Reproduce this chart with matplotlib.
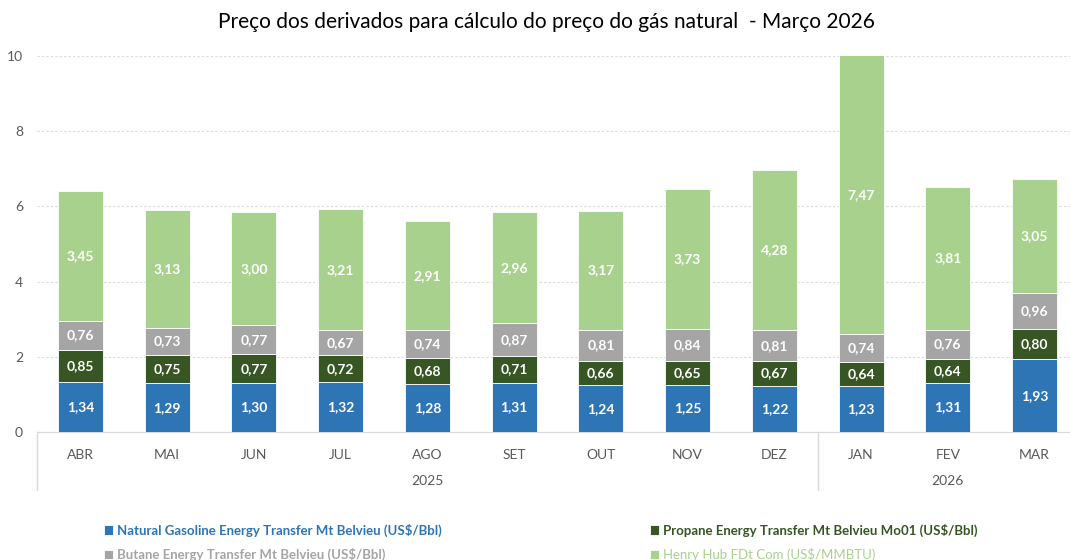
import matplotlib
matplotlib.use("Agg")
import matplotlib.pyplot as plt
import numpy as np
from matplotlib.transforms import blended_transform_factory

plt.rcParams['font.family'] = ['Lato', 'DejaVu Sans']

months = ["ABR", "MAI", "JUN", "JUL", "AGO", "SET", "OUT", "NOV", "DEZ", "JAN", "FEV", "MAR"]
years = ["2025", "2026"]
year_sizes = [9, 3]

gasoline = [1.34, 1.29, 1.30, 1.32, 1.28, 1.31, 1.24, 1.25, 1.22, 1.23, 1.31, 1.93]
propane = [0.85, 0.75, 0.77, 0.72, 0.68, 0.71, 0.66, 0.65, 0.67, 0.64, 0.64, 0.80]
butane = [0.76, 0.73, 0.77, 0.67, 0.74, 0.87, 0.81, 0.84, 0.81, 0.74, 0.76, 0.96]
henry = [3.45, 3.13, 3.00, 3.21, 2.91, 2.96, 3.17, 3.73, 4.28, 7.47, 3.81, 3.05]

names = ["Natural Gasoline Energy Transfer Mt Belvieu (US$/Bbl)",
         "Propane Energy Transfer Mt Belvieu Mo01 (US$/Bbl)",
         "Butane Energy Transfer Mt Belvieu (US$/Bbl)",
         "Henry Hub FDt Com (US$/MMBTU)"]
colors = ["#2E75B6", "#375623", "#A5A5A5", "#A9D18E"]

fig = plt.figure(figsize=(10.7, 5.6), dpi=100)
ax = fig.add_axes([37 / 1070, 1 - 432 / 560, 1041 / 1070, 376 / 560])

x = np.arange(len(months))
bottom = np.zeros(len(months))
bars = []
for vals, c, n in zip([gasoline, propane, butane, henry], colors, names):
    b = ax.bar(x, vals, 0.52, bottom=bottom, color=c, label=n, zorder=3,
               edgecolor="white", linewidth=0.6)
    ax.bar_label(b, labels=[f"{v:.2f}".replace(".", ",") for v in vals],
                 label_type="center", color="white", fontsize=10, fontweight="bold")
    bars.append(b)
    bottom += np.array(vals)

ax.set_xlim(-0.5, 11.5)
ax.set_ylim(0, 10)
ax.set_yticks([0, 2, 4, 6, 8, 10])
ax.tick_params(axis="y", length=0, labelsize=10, colors="#595959", pad=10)
ax.yaxis.grid(True, linestyle=(0, (2, 2)), color="#D9D9D9", linewidth=0.8, zorder=0)
ax.set_xticks(x)
ax.set_xticklabels(months)
ax.tick_params(axis="x", length=0, labelsize=10, colors="#595959", pad=12)
for s in ["top", "right", "left"]:
    ax.spines[s].set_visible(False)
ax.spines["bottom"].set_color("#D9D9D9")

# year grouping
tr = blended_transform_factory(ax.transData, ax.transAxes)
start = -0.5
for yr, n in zip(years, year_sizes):
    ax.text(start + n / 2, -0.13, yr, transform=tr, ha="center", va="center",
            fontsize=10, color="#595959")
    start += n
for xs in [-0.5, 8.5, 11.5]:
    ax.plot([xs, xs], [0, -0.155], transform=tr, color="#D9D9D9", linewidth=1,
            clip_on=False)

fig.text(0.511, 0.96, "Preço dos derivados para cálculo do preço do gás natural  - Março 2026",
         ha="center", va="center", fontsize=15, color="#000000")

order = [[0, 2], [1, 3]]
xs_leg = [97 / 1070, 643 / 1070]
for col, xl in zip(order, xs_leg):
    leg = fig.legend([bars[i] for i in col], [names[i] for i in col],
                     loc="upper left", bbox_to_anchor=(xl, 1 - 517 / 560),
                     frameon=False, fontsize=9.5, handlelength=0.7, handleheight=0.7,
                     handletextpad=0.3, labelspacing=0.85, borderpad=0)
    for i, t in zip(col, leg.get_texts()):
        t.set_color(colors[i])
        if i != 3:
            t.set_fontweight("bold")

fig.savefig("out.png", dpi=100)
